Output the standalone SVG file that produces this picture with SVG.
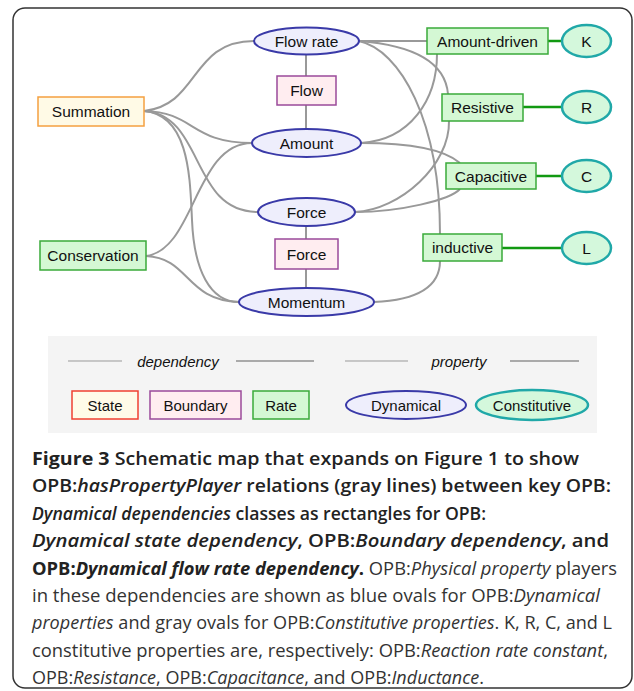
<svg xmlns="http://www.w3.org/2000/svg" width="634" height="691" viewBox="0 0 634 691">
<style>
.lbl{font-family:"Liberation Sans",Arial,sans-serif;font-size:15.5px;fill:#111;text-anchor:middle}
.leg{font-family:"Liberation Sans",Arial,sans-serif;font-size:15px;fill:#111;text-anchor:middle}
.dyn{fill:#eeeefc;stroke:#3a3aa8;stroke-width:2}
.con{fill:#d4f8dc;stroke:#20a8a8;stroke-width:2.5}
.bnd{fill:#ffedf0;stroke:#9a4a9a;stroke-width:1.5}
.sta{fill:#fffae6;stroke:#f5a040;stroke-width:1.5}
.rat{fill:#d4f8d4;stroke:#3aaa3a;stroke-width:1.5}
.gl{fill:none;stroke:#999;stroke-width:2}
.grn{fill:none;stroke:#119911;stroke-width:2.5}
.cap{font-family:"Open Sans","Noto Sans",sans-serif;font-size:18px;fill:#222}
.b{font-weight:600}
.bb{font-weight:700}
.i{font-style:italic}
.lt{font-weight:400;fill:#333}
</style>
<rect x="13" y="8" width="619" height="680" rx="12" ry="12" fill="#fff" stroke="#333" stroke-width="1.5"/>
<g id="connectors">
<path class="gl" d="M306,54 V76 M306,105 V129 M306,226 V239 M306,269 V288"/>
<path class="gl" d="M144,111 C200,105 190,41 254,41"/>
<path class="gl" d="M144,111 C195,112 190,143 252,143"/>
<path class="gl" d="M144,111 C205,115 190,212 258,212"/>
<path class="gl" d="M144,111 C190,115 190,180 192,220 C194,270 210,302 239,302"/>
<path class="gl" d="M146,256 C195,250 195,143 252,143"/>
<path class="gl" d="M146,256 C190,258 185,300 239,302"/>
<path class="gl" d="M359,41 H427"/>
<path class="gl" d="M361,143 C410,140 437,100 437,54"/>
<path class="gl" d="M359,41 C410,45 445,60 448,94"/>
<path class="gl" d="M449,121 C450,165 400,210 355,212"/>
<path class="gl" d="M359,41 C400,50 440,120 440,234"/>
<path class="gl" d="M374,302 C420,300 440,285 440,261"/>
<path class="gl" d="M361,143 C410,143 445,150 460,163"/>
<path class="gl" d="M355,212 C400,212 450,200 460,189"/>
<path class="grn" d="M548,41 H562 M523,107 H562 M536,176 H562 M502,248 H562"/>
</g>
<g id="flowrate"><ellipse class="dyn" cx="306.5" cy="41" rx="52.5" ry="13.5"/><text class="lbl" x="306.5" y="46.5">Flow rate</text></g>
<g id="flow"><rect class="bnd" x="277" y="76" width="59" height="29"/><text class="lbl" x="306.5" y="96">Flow</text></g>
<g id="amount"><ellipse class="dyn" cx="306.5" cy="143" rx="54.5" ry="14"/><text class="lbl" x="306.5" y="148.5">Amount</text></g>
<g id="force"><ellipse class="dyn" cx="306.5" cy="212" rx="48.5" ry="14"/><text class="lbl" x="306.5" y="217.5">Force</text></g>
<g id="forcedep"><rect class="bnd" x="275" y="239" width="63" height="30"/><text class="lbl" x="306.5" y="259.5">Force</text></g>
<g id="momentum"><ellipse class="dyn" cx="306.5" cy="302" rx="67.5" ry="14"/><text class="lbl" x="306.5" y="307.5">Momentum</text></g>
<g id="summation"><rect class="sta" x="38" y="97" width="106" height="29"/><text class="lbl" x="91" y="117">Summation</text></g>
<g id="conservation"><rect class="rat" x="40" y="241" width="106" height="29"/><text class="lbl" x="93" y="261">Conservation</text></g>
<g id="amountdriven"><rect class="rat" x="427" y="28" width="121" height="26"/><text class="lbl" x="487.5" y="46.5">Amount-driven</text></g>
<g id="resistive"><rect class="rat" x="442" y="94" width="81" height="27"/><text class="lbl" x="482.5" y="113">Resistive</text></g>
<g id="capacitive"><rect class="rat" x="446" y="163" width="90" height="26"/><text class="lbl" x="491" y="181.5">Capacitive</text></g>
<g id="inductive"><rect class="rat" x="423" y="234" width="79" height="27"/><text class="lbl" x="462.5" y="253">inductive</text></g>
<g id="K"><ellipse class="con" cx="586.5" cy="41" rx="24.5" ry="16"/><text class="lbl" x="586.5" y="46.5">K</text></g>
<g id="R"><ellipse class="con" cx="586.5" cy="107" rx="24.5" ry="16"/><text class="lbl" x="586.5" y="112.5">R</text></g>
<g id="C"><ellipse class="con" cx="586.5" cy="176" rx="24.5" ry="16"/><text class="lbl" x="586.5" y="181.5">C</text></g>
<g id="L"><ellipse class="con" cx="586.5" cy="248" rx="24.5" ry="16"/><text class="lbl" x="586.5" y="253.5">L</text></g>
<g id="legend">
<rect x="48" y="336" width="549" height="97" fill="#f4f4f4"/>
<path d="M68,361 H122 M345,361 H408" stroke="#999" stroke-width="1" fill="none"/>
<path d="M236,361 H314 M510,361 H579" stroke="#aaa" stroke-width="2" fill="none"/>
<text class="leg i" x="178" y="367">dependency</text>
<text class="leg i" x="459" y="367">property</text>
<rect x="72" y="391" width="66" height="28" fill="#fffbe8" stroke="#f04030" stroke-width="1.5"/>
<text class="leg" x="105" y="411">State</text>
<rect x="150" y="391" width="91" height="28" fill="#ffedf0" stroke="#9a4a9a" stroke-width="1.5"/>
<text class="leg" x="195.5" y="411">Boundary</text>
<rect x="253" y="391" width="56" height="28" fill="#d4f8d4" stroke="#3aaa3a" stroke-width="1.5"/>
<text class="leg" x="281" y="411">Rate</text>
<ellipse class="dyn" cx="406" cy="405" rx="60" ry="14"/>
<text class="leg" x="406" y="410.5">Dynamical</text>
<ellipse class="con" cx="532" cy="405" rx="56" ry="15"/>
<text class="leg" x="532" y="410.5">Constitutive</text>
</g>
<g id="caption" class="cap">
<text x="32" y="465" textLength="547" lengthAdjust="spacingAndGlyphs"><tspan class="bb">Figure 3</tspan><tspan class="b"> Schematic map that expands on Figure 1 to show</tspan></text>
<text x="32" y="492" textLength="579" lengthAdjust="spacingAndGlyphs" class="b">OPB:<tspan class="i">hasPropertyPlayer</tspan> relations (gray lines) between key OPB:</text>
<text x="32" y="520" textLength="454" lengthAdjust="spacingAndGlyphs" class="b"><tspan class="i">Dynamical dependencies</tspan> classes as rectangles for OPB:</text>
<text x="32" y="547" textLength="577" lengthAdjust="spacingAndGlyphs" class="b"><tspan class="i">Dynamical state dependency</tspan>, OPB:<tspan class="i">Boundary dependency</tspan>, and</text>
<text x="32" y="575" textLength="585" lengthAdjust="spacingAndGlyphs"><tspan class="bb">OPB:<tspan class="i">Dynamical flow rate dependency</tspan>.</tspan><tspan class="lt"> OPB:<tspan class="i">Physical property</tspan> players</tspan></text>
<text x="32" y="602" textLength="568" lengthAdjust="spacingAndGlyphs" class="lt">in these dependencies are shown as blue ovals for OPB:<tspan class="i">Dynamical</tspan></text>
<text x="32" y="629" textLength="580" lengthAdjust="spacingAndGlyphs" class="lt"><tspan class="i">properties</tspan> and gray ovals for OPB:<tspan class="i">Constitutive properties</tspan>. K, R, C, and L</text>
<text x="32" y="657" textLength="576" lengthAdjust="spacingAndGlyphs" class="lt">constitutive properties are, respectively: OPB:<tspan class="i">Reaction rate constant</tspan>,</text>
<text x="32" y="684" textLength="452" lengthAdjust="spacingAndGlyphs" class="lt">OPB:<tspan class="i">Resistance</tspan>, OPB:<tspan class="i">Capacitance</tspan>, and OPB:<tspan class="i">Inductance</tspan>.</text>
</g>
</svg>
